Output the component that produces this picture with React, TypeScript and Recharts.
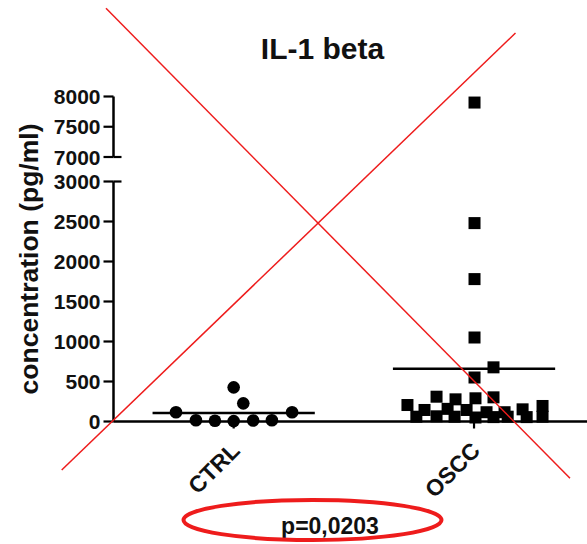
import React from 'react';
import { ScatterChart, Scatter, XAxis, YAxis, ReferenceLine } from 'recharts';

// ---------- data ----------
const categories = ['CTRL', 'OSCC'];
const ctrlValues = [115, 15, 10, 5, 427, 227, 12, 15, 115];
const ctrlJitter = [-0.24, -0.157, -0.078, 0.0, 0.0, 0.04, 0.081, 0.159, 0.243];
const osccValues = [7900, 2480, 1780, 1050, 677, 550, 310, 277, 290, 302, 206, 194, 152, 144, 158, 144, 116, 116, 60, 65, 60, 50, 55, 60, 55, 60];
const osccJitter = [0.002, 0.002, 0.002, 0.002, 0.081, 0.002, -0.156, -0.077, 0.006, 0.081, -0.277, 0.285, 0.202, -0.206, -0.11, -0.031, 0.052, 0.127, -0.24, -0.156, -0.081, 0.006, 0.081, 0.14, 0.219, 0.285];
const groupMeans = [105, 660];
const lowerTicks = [0, 500, 1000, 1500, 2000, 2500, 3000];
const upperTicks = [7000, 7500, 8000];
const breakValues = [3000, 7000];
const pValueText = 'p=0,0203';
const titleText = 'IL-1 beta';
const yLabelText = 'concentration (pg/ml)';

// ---------- derived tables ----------
const ctrlData = ctrlValues.map((v, i) => ({ x: 1 + ctrlJitter[i], y: v }));
const osccAll = osccValues.map((v, i) => ({ x: 2 + osccJitter[i], y: v }));
const osccLow = osccAll.filter((d) => d.y < 7000);
const osccHigh = osccAll.filter((d) => d.y >= 7000);

// ---------- styles ----------
const W = 587;
const H = 544;
const FONT = '"Liberation Sans", Arial, Helvetica, sans-serif';
const X_DOMAIN: [number, number] = [0.5, 2.47];
const Y_AXIS_W = 113.5;
const TICK_SIZE = 10;
const TICK_MARGIN = 3;
const X_AXIS_H = 60;
const MEAN_HALF = 0.3375;
const RED = '#ee1c1c';

const CircleDot = (p: any) => <circle cx={p.cx} cy={p.cy} r={6.3} fill="#000" />;
const SquareDot = (p: any) => <rect x={p.cx - 6} y={p.cy - 6} width={12} height={12} fill="#000" />;

const YTick = (props: any) => {
  const { x, y, payload } = props;
  const axisX = x + TICK_SIZE + TICK_MARGIN;
  return (
    <g>
      <text x={x} y={y} dy="0.36em" textAnchor="end" fontFamily={FONT} fontWeight="bold" fontSize={21} fill="#111">
        {payload.value}
      </text>
      {breakValues.includes(payload.value) && (
        <line x1={axisX} x2={axisX + 8} y1={y} y2={y} stroke="#000" strokeWidth={2.2} />
      )}
    </g>
  );
};

const XTick = (props: any) => {
  const { x, y, payload } = props;
  const label = categories[Math.round(payload.value) - 1];
  return (
    <g transform={`translate(${x + 7.5},${y + 21.5})`}>
      <text x={0} y={0} transform="rotate(-45)" textAnchor="end" fontFamily={FONT} fontWeight="bold" fontSize={23} fill="#111">
        {label}
      </text>
    </g>
  );
};

const axisStyle = { stroke: '#000', strokeWidth: 2.5 };
const tickStyle = { stroke: '#000', strokeWidth: 2.2 };

export default function App() {
  return (
    <div style={{ position: 'absolute', left: 0, top: 0, width: W, height: H, background: '#fff' }}>
      {/* upper segment of the broken axis */}
      <div style={{ position: 'absolute', left: 0, top: 0 }}>
        <ScatterChart width={W} height={H} margin={{ top: 96.5, right: 0, bottom: H - 157, left: 0 }}>
          <XAxis type="number" dataKey="x" domain={X_DOMAIN} hide />
          <YAxis
            type="number"
            dataKey="y"
            domain={[7000, 8000]}
            ticks={upperTicks}
            width={Y_AXIS_W}
            tickSize={TICK_SIZE}
            tickMargin={TICK_MARGIN}
            axisLine={axisStyle}
            tickLine={tickStyle}
            tick={<YTick />}
            interval={0}
          />
          <Scatter data={osccHigh} shape={SquareDot} isAnimationActive={false} />
        </ScatterChart>
      </div>
      {/* lower segment */}
      <div style={{ position: 'absolute', left: 0, top: 0 }}>
        <ScatterChart width={W} height={H} margin={{ top: 181.5, right: 0, bottom: H - 421.5 - X_AXIS_H, left: 0 }}>
          <XAxis
            type="number"
            dataKey="x"
            domain={X_DOMAIN}
            ticks={[1, 2]}
            height={X_AXIS_H}
            tickSize={7}
            tickMargin={2}
            axisLine={axisStyle}
            tickLine={tickStyle}
            tick={<XTick />}
            interval={0}
          />
          <YAxis
            type="number"
            dataKey="y"
            domain={[0, 3000]}
            ticks={lowerTicks}
            width={Y_AXIS_W}
            tickSize={TICK_SIZE}
            tickMargin={TICK_MARGIN}
            axisLine={axisStyle}
            tickLine={tickStyle}
            tick={<YTick />}
            interval={0}
          />
          {groupMeans.map((m, i) => (
            <ReferenceLine
              key={i}
              segment={[{ x: i + 1 - MEAN_HALF, y: m }, { x: i + 1 + MEAN_HALF, y: m }]}
              stroke="#000"
              strokeWidth={2.5}
            />
          ))}
          <Scatter data={ctrlData} shape={CircleDot} isAnimationActive={false} />
          <Scatter data={osccLow} shape={SquareDot} isAnimationActive={false} />
        </ScatterChart>
      </div>
      {/* annotations */}
      <svg width={W} height={H} style={{ position: 'absolute', left: 0, top: 0, pointerEvents: 'none' }}>
        <text x={322.5} y={59} textAnchor="middle" fontFamily={FONT} fontWeight="bold" fontSize={30} fill="#111">
          {titleText}
        </text>
        <text
          x={0}
          y={0}
          transform="translate(38,259) rotate(-90)"
          textAnchor="middle"
          fontFamily={FONT}
          fontWeight="bold"
          fontSize={26.5}
          fill="#111"
        >
          {yLabelText}
        </text>
        <text x={330} y={534} textAnchor="middle" fontFamily={FONT} fontWeight="bold" fontSize={23} fill="#111">
          {pValueText}
        </text>
        <ellipse cx={312.5} cy={520} rx={129} ry={20} fill="none" stroke={RED} strokeWidth={4} />
        <line x1={106} y1={8.3} x2={570} y2={478.3} stroke={RED} strokeWidth={1.5} />
        <line x1={515.5} y1={33} x2={61.7} y2={470} stroke={RED} strokeWidth={1.5} />
      </svg>
    </div>
  );
}
